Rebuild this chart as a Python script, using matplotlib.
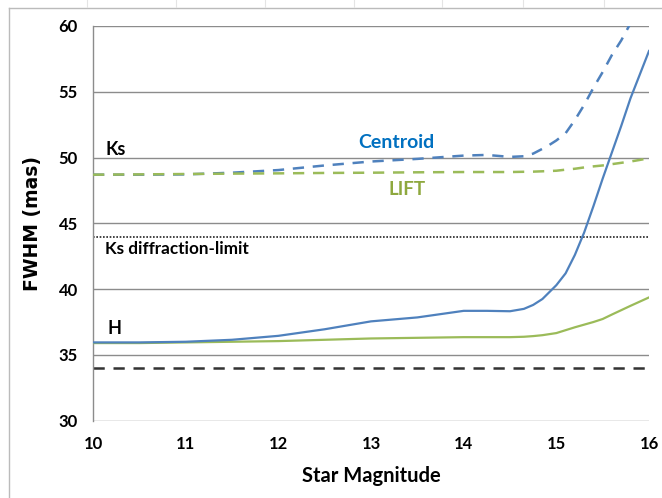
import matplotlib
matplotlib.use("Agg")
import matplotlib.pyplot as plt
from matplotlib.lines import Line2D

# Data
mag_h = [10, 10.5, 11, 11.5, 12, 12.5, 13, 13.5, 14, 14.25, 14.5, 14.65, 14.75, 14.85,
         15.0, 15.1, 15.2, 15.3, 15.4, 15.5, 15.6, 15.7, 15.8, 15.9, 16]
centroid_H = [35.95, 35.95, 36.0, 36.15, 36.45, 36.95, 37.55, 37.85, 38.35, 38.35, 38.32, 38.5, 38.8, 39.25,
              40.3, 41.2, 42.6, 44.3, 46.3, 48.4, 50.4, 52.4, 54.5, 56.3, 58.1]
lift_H = [35.9, 35.9, 35.95, 36.0, 36.05, 36.15, 36.25, 36.3, 36.35, 36.35, 36.35, 36.38, 36.43, 36.5,
          36.66, 36.88, 37.1, 37.3, 37.5, 37.73, 38.07, 38.4, 38.73, 39.05, 39.37]

mag_ks = [10, 10.5, 11, 11.5, 12, 12.5, 13, 13.5, 14, 14.25, 14.5, 14.65, 14.75, 14.9,
          15.0, 15.1, 15.2, 15.3, 15.4, 15.5, 15.6, 15.7, 15.8, 15.9, 16]
centroid_Ks = [48.7, 48.7, 48.72, 48.85, 49.05, 49.4, 49.7, 49.9, 50.15, 50.2, 50.05, 50.1, 50.3, 50.85,
               51.3, 51.85, 52.85, 54.0, 55.3, 56.5, 57.8, 58.9, 60.2, 61.5, 62.8]
lift_Ks = [48.7, 48.72, 48.75, 48.78, 48.8, 48.83, 48.85, 48.88, 48.9, 48.9, 48.9, 48.92, 48.93, 48.97,
           49.0, 49.08, 49.15, 49.25, 49.33, 49.4, 49.5, 49.6, 49.7, 49.82, 49.95]
ks_diff_limit = 44
h_diff_limit = 34

xticks = [10, 11, 12, 13, 14, 15, 16]
yticks = [30, 35, 40, 45, 50, 55, 60]

blue = "#4F81BD"
green = "#9BBB59"
font = "Lato"

fig = plt.figure(figsize=(6.62, 4.98), dpi=100)
ax = fig.add_axes([93/662, 1-420.7/498, (649-93)/662, (420.7-26)/498])

for y in yticks:
    ax.axhline(y, color="#8C8C8C", lw=1.0, zorder=1)

ax.plot(mag_ks, centroid_Ks, color=blue, lw=1.8, ls=(0, (4.5, 3.5)), zorder=3)
ax.plot(mag_ks, lift_Ks, color=green, lw=1.8, ls=(0, (4.5, 3.5)), zorder=3)
ax.plot(mag_h, centroid_H, color=blue, lw=1.6, zorder=4)
ax.plot(mag_h, lift_H, color=green, lw=1.6, zorder=3)
ax.axhline(ks_diff_limit, color="#222222", lw=1.2, ls=(0, (1, 1)), zorder=2)
ax.axhline(h_diff_limit, color="#333333", lw=1.8, ls=(0, (4.5, 3.5)), zorder=2)

ax.set_xlim(10, 16)
ax.set_ylim(30, 60)
ax.set_xticks(xticks)
ax.set_yticks(yticks)
ax.tick_params(length=0, labelsize=12, pad=11)
for lab in ax.get_xticklabels() + ax.get_yticklabels():
    lab.set_fontfamily(font)
    lab.set_fontweight("bold")

for s in ["top", "right", "bottom"]:
    ax.spines[s].set_visible(False)
ax.spines["left"].set_color("#8C8C8C")
ax.spines["left"].set_linewidth(1.0)

ax.set_xlabel("Star Magnitude", fontsize=14.5, fontweight="bold", family=font, labelpad=10)
ax.set_ylabel("FWHM (mas)", fontsize=13.5, fontweight="bold", family="DejaVu Sans", labelpad=12)

ax.text(10.13, 50.65, "Ks", fontsize=13, fontweight="bold", family=font, va="center", ha="left")
ax.text(10.13, 43.05, "Ks diffraction-limit", fontsize=12.3, fontweight="bold", family=font, va="center", ha="left")
ax.text(10.23, 36.97, "H", fontsize=13, fontweight="bold", family=font, va="center", ha="center")
ax.text(13.27, 51.15, "Centroid", fontsize=14, fontweight="bold", family=font, va="center", ha="center", color="#0070C0")
ax.text(13.39, 47.6, "LIFT", fontsize=13.5, fontweight="bold", family=font, va="center", ha="center", color="#8EA83E")

# chart-area border (left and top visible) and faint page marks above it
fig.add_artist(Line2D([9/662, 9/662], [0, 1-8.5/498], transform=fig.transFigure, color="#BBBBBB", lw=1))
fig.add_artist(Line2D([9/662, 1], [1-8.5/498, 1-8.5/498], transform=fig.transFigure, color="#BBBBBB", lw=1))
for px in [86.5, 176, 265, 354, 442, 523, 604]:
    fig.add_artist(Line2D([px/662, px/662], [1-7/498, 1], transform=fig.transFigure, color="#E4E4E4", lw=0.8))

fig.savefig("out.png", dpi=100)
